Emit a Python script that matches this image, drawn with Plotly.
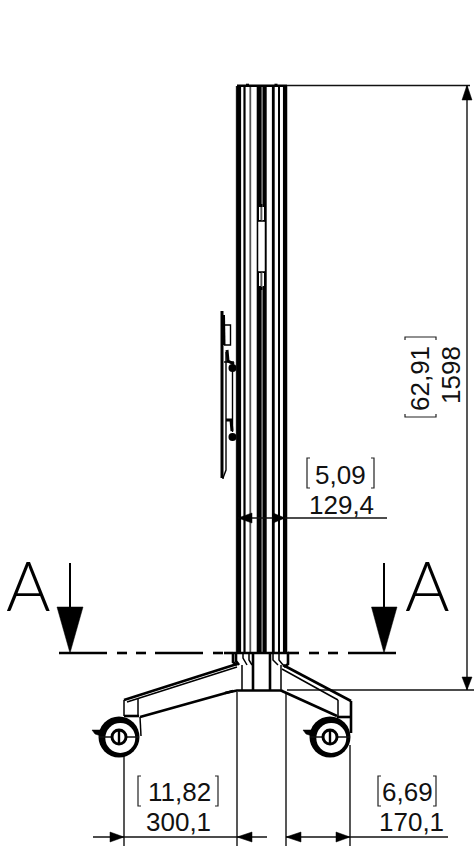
import plotly.graph_objects as go

W, H = 476, 846

# Mast stripes: (x centre, width, colour); top and bottom of the mast
MAST_TOP, MAST_BOTTOM = 86, 652
MAST_STRIPES = [
    (235.8, 1, "#cccccc"), (238.6, 5, "#000"), (244.5, 2.2, "#000"), (250.3, 1.8, "#555"),
    (259.3, 5.2, "#000"), (261.9, 1.4, "#666"), (264.7, 4, "#000"),
    (273.3, 2.8, "#000"), (279, 2, "#000"), (285.1, 4.3, "#000"),
]

# Polylines grouped by (line width, colour)
THICK_LINES = [
    [(237, 85.7), (287, 85.7)],
    [(246, 85), (249, 85)], [(274.5, 85), (277.5, 85)],
    [(233, 653), (289, 653)],
    [(253, 652), (253, 691)], [(270, 652), (270, 691)],
    [(225, 693), (232, 691.5), (237, 690.5), (280, 690.5), (283, 691)],
    [(233, 653), (233, 662), (237, 665)],
    [(236, 653), (236, 661), (239, 665)],
    [(288, 653), (288, 664), (284, 667)],
    [(124, 700), (237, 664)],
    [(283, 665), (351, 701)],
    [(351, 701), (351, 733)],
    [(140, 717), (227, 692), (233, 691)],
    [(282, 691), (337, 716)],
    [(124, 716), (139, 716)],
    [(337, 717), (351, 717)],
]
MEDIUM_LINES = [
    [(127, 702), (237, 667)],
    [(282, 669), (338, 700)],
    [(124, 700), (124, 716)],
    [(138, 698), (138, 716)],
    [(338, 700), (338, 717)],
    [(140, 717), (141, 736)],
    [(242, 665), (242, 690)], [(281, 665), (281, 690)],
    [(243, 653), (243, 658), (247, 665)],
    [(249, 653), (249, 660), (252, 665)],
    [(273, 653), (273, 660), (278, 665)],
    [(279, 653), (279, 660), (283, 665)],
]
BRACKET_THICK = [
    [(222, 311), (222, 478)],
    [(223.5, 315), (224, 345)],
    [(227, 350), (228, 361), (234, 364)],
    [(226, 420), (231, 420), (232, 431)],
]
BRACKET_THIN = [
    [(224, 325), (230.5, 325), (230.5, 345), (224, 345)],
    [(226, 352), (226, 470), (223, 478)],
    [(232.5, 365), (232.5, 432)],
    [(224, 362), (234, 362)],
    [(224, 478), (222, 478)],
]
BRACKET_BLOBS = [(232.5, 368), (232.5, 437)]

SLOT_OUTER = [
    [(258, 206), (258, 287)], [(265, 206), (265, 287)],
    [(258, 221.5), (265, 221.5)], [(258, 271.5), (265, 271.5)],
    [(261.5, 204), (261.5, 207)], [(261.5, 287), (261.5, 290)],
]
SLOT_WHITE = [
    [(261.5, 222.5), (261.5, 271)],
    [(259.8, 207), (259.8, 220)], [(263.2, 207), (263.2, 220)],
    [(259.8, 273), (259.8, 286)], [(263.2, 273), (263.2, 286)],
]

CENTRE_DASHES = [
    [(59, 653), (107, 653)], [(117, 653), (127, 653)], [(136, 653), (146, 653)],
    [(155, 653), (203, 653)], [(213, 653), (223, 653)], [(224, 653), (233, 653)],
    [(288, 653), (299, 653)], [(309, 653), (319, 653)], [(328, 653), (338, 653)],
    [(348, 653), (396, 653)],
]

# Dimension and extension lines
DIM_LINES = [
    [(287, 85.5), (470, 85.5)], [(467, 85), (467, 690)], [(287, 690), (474, 690)],
    [(238, 518), (387, 518)],
    [(93, 837), (267, 837)], [(286, 837), (448, 837)],
    [(124, 745), (124, 846)], [(237, 692), (237, 846)],
    [(286, 692), (286, 846)], [(350, 745), (350, 846)],
]
WHEEL_CROSS = [[(99, 737), (139, 737)], [(310, 737), (350, 737)]]
AXLE_BARS = [[(119, 731), (119, 743)], [(330, 731), (330, 743)]]
TEXT_BRACKETS = [
    [(141, 776), (138, 776), (138, 806), (141, 806)],
    [(215, 776), (218, 776), (218, 806), (215, 806)],
    [(310, 458), (307, 458), (307, 488), (310, 488)],
    [(371, 458), (374, 458), (374, 488), (371, 488)],
    [(381, 776), (378, 776), (378, 806), (381, 806)],
    [(433, 776), (436, 776), (436, 806), (433, 806)],
    [(405, 340), (405, 337), (436, 337), (436, 340)],
    [(405, 414), (405, 417), (436, 417), (436, 414)],
]
SECTION_SHAFTS = [[(70, 563), (70, 608)], [(384, 563), (384, 608)]]

# Filled arrowheads
ARROWHEADS = [
    [(57, 607), (83, 607), (70, 653)],
    [(371.5, 607), (397, 607), (384, 653)],
    [(467, 85), (462, 100), (472, 100)],
    [(467, 690), (462, 677), (472, 677)],
    [(238, 518), (252, 513), (252, 523)],
    [(285, 518), (273, 513), (273, 523)],
    [(124, 837), (110, 832), (110, 842)],
    [(237, 837), (252, 832), (252, 842)],
    [(286, 837), (301, 832), (301, 842)],
    [(350, 837), (336, 832), (336, 842)],
]
BRAKE_TABS = [
    [(92, 730), (101, 730), (101, 736), (95, 734)],
    [(303, 730), (312, 730), (312, 736), (306, 734)],
]

# Castor wheels: centres, tyre bore centres and ring diameters
WHEEL_X = [119, 330]
WHEEL_Y = [737, 737]
BORE_X = [120.3, 331.3]
BORE_Y = [738, 738]
TYRE_SIZE, BORE_SIZE, HUB_SIZE = 41, 30, 14

# Labels: text, x, y, size, angle
LABELS = [
    ("11,82", 179, 792, 26, 0), ("300,1", 178, 822, 26, 0),
    ("5,09", 340.5, 474.5, 26, 0), ("129,4", 341, 504.5, 26, 0),
    ("6,69", 407, 792, 26, 0), ("170,1", 411, 822, 26, 0),
    ("62,91", 420, 379, 26, -90), ("1598", 451, 375, 26, -90),
]
SECTION_LABELS = [("A", 28, 584), ("A", 427, 584)]

fig = go.Figure()


def strokes(groups, width, color):
    xs, ys = [], []
    for g in groups:
        for x, y in g:
            xs.append(x)
            ys.append(y)
        xs.append(None)
        ys.append(None)
    fig.add_trace(go.Scatter(x=xs, y=ys, mode="lines", hoverinfo="skip",
                             line=dict(color=color, width=width)))


def fills(groups, color="#000"):
    xs, ys = [], []
    for g in groups:
        for x, y in g + [g[0]]:
            xs.append(x)
            ys.append(y)
        xs.append(None)
        ys.append(None)
    fig.add_trace(go.Scatter(x=xs, y=ys, mode="lines", fill="toself", fillcolor=color,
                             hoverinfo="skip", line=dict(color=color, width=0.5)))


def discs(xs, ys, size, color, edge=0, edge_color="#000"):
    fig.add_trace(go.Scatter(x=xs, y=ys, mode="markers", hoverinfo="skip",
                             marker=dict(size=size, color=color, line=dict(width=edge, color=edge_color))))


for x, w, c in MAST_STRIPES:
    strokes([[(x, MAST_TOP), (x, MAST_BOTTOM)]], w, c)

strokes(SLOT_OUTER, 2, "#000")
fills([[(258.5, 222), (264.5, 222), (264.5, 271), (258.5, 271)]], "#fff")
strokes(SLOT_WHITE, 1.6, "#fff")
strokes(DIM_LINES, 1.4, "#111")
strokes(THICK_LINES, 2.6, "#000")
strokes(MEDIUM_LINES, 1.5, "#000")
strokes(BRACKET_THICK, 3, "#000")
strokes(BRACKET_THIN, 1.4, "#000")
discs([p[0] for p in BRACKET_BLOBS], [p[1] for p in BRACKET_BLOBS], 8, "#000")
strokes(CENTRE_DASHES, 2.6, "#000")
strokes(SECTION_SHAFTS, 2, "#000")
strokes(TEXT_BRACKETS, 1.2, "#222")
fills(ARROWHEADS)
fills(BRAKE_TABS)
discs(WHEEL_X, WHEEL_Y, TYRE_SIZE, "#000")
discs(BORE_X, BORE_Y, BORE_SIZE, "#fff")
strokes(WHEEL_CROSS, 1.4, "#111")
discs(WHEEL_X, WHEEL_Y, HUB_SIZE, "#fff", 3)
strokes(AXLE_BARS, 2.4, "#000")

annotations = [
    dict(x=x, y=y, text=t, showarrow=False, textangle=a, xanchor="center", yanchor="middle",
         font=dict(family="Liberation Sans", size=s, color="#111"))
    for t, x, y, s, a in LABELS
]
annotations += [
    dict(x=x, y=y, text=t, showarrow=False, xanchor="center", yanchor="middle",
         font=dict(family="Lato", size=68, color="#000", weight=300))
    for t, x, y in SECTION_LABELS
]

fig.update_layout(
    width=W, height=H, autosize=False, showlegend=False,
    margin=dict(l=0, r=0, t=0, b=0),
    paper_bgcolor="#fff", plot_bgcolor="#fff",
    xaxis=dict(range=[0, W], visible=False, fixedrange=True),
    yaxis=dict(range=[H, 0], visible=False, fixedrange=True),
    annotations=annotations,
)
fig.write_html("out.html", config=dict(displayModeBar=False), default_width=W, default_height=H,
               post_script="document.body.style.margin='0';document.documentElement.style.overflow='hidden';")
